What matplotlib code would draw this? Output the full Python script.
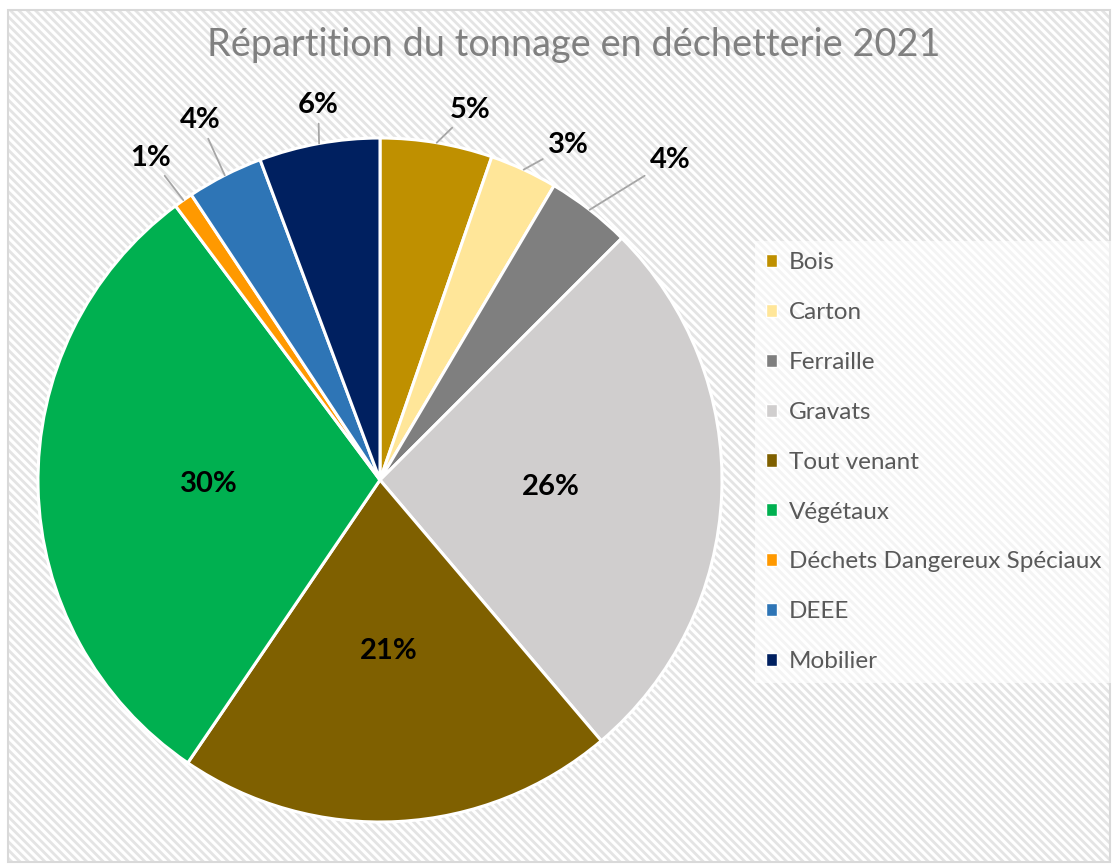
import numpy as np
import matplotlib.pyplot as plt
from matplotlib.patches import Rectangle, Patch

plt.rcParams['font.family'] = ['Lato', 'DejaVu Sans']
plt.rcParams['hatch.linewidth'] = 2.0

# Data (share of tonnage, %)
categories = ['Bois', 'Carton', 'Ferraille', 'Gravats', 'Tout venant', 'Végétaux',
              'Déchets Dangereux Spéciaux', 'DEEE', 'Mobilier']
values = [5.3, 3.2, 4.0, 26.3, 20.7, 30.3, 0.9, 3.6, 5.7]
colors = ['#BF9000', '#FFE699', '#7F7F7F', '#D0CECE', '#7F6000', '#00B050',
          '#FF9900', '#2E75B6', '#002060']

# label placement: None = inside the slice, else (clockwise angle offset deg, radius)
outside = [(4.2, 1.114), (4.5, 1.124), (4.4, 1.263), None, None, None,
           (-0.3, 1.156), (0.4, 1.176), (0.9, 1.111)]

fig = plt.figure(figsize=(11.14, 8.65), dpi=100)

# hatched background with light border
bg = Rectangle((8 / 1114, 3 / 865), 1102 / 1114, 852 / 865, transform=fig.transFigure,
               facecolor='white', edgecolor='#e4e4e4', hatch='\\' * 4, lw=0, zorder=-2)
fig.patches.append(bg)
border = Rectangle((8 / 1114, 3 / 865), 1102 / 1114, 852 / 865, transform=fig.transFigure,
                   facecolor='none', edgecolor='#d9d9d9', lw=1.5, zorder=-1)
fig.patches.append(border)

ax = fig.add_axes([38 / 1114, 43 / 865, 684 / 1114, 684 / 865])
wedges, _ = ax.pie(values, colors=colors, startangle=90, counterclock=False, radius=1,
                   wedgeprops=dict(edgecolor='white', linewidth=2.2))
ax.set_xlim(-1, 1)
ax.set_ylim(-1, 1)
ax.set_aspect('equal')
ax.axis('off')

total = sum(values)
for w, v, pos in zip(wedges, values, outside):
    mid = np.deg2rad((w.theta1 + w.theta2) / 2)
    txt = f'{v / total * 100:.0f}%'
    if pos is None:
        ax.text(0.5 * np.cos(mid), 0.5 * np.sin(mid), txt, ha='center', va='center',
                fontsize=21, fontweight='bold', color='black')
    else:
        a = mid - np.deg2rad(pos[0])
        tx, ty = pos[1] * np.cos(a), pos[1] * np.sin(a)
        ax.annotate(txt, xy=(np.cos(mid), np.sin(mid)), xytext=(tx, ty),
                    ha='center', va='center', fontsize=21, fontweight='bold', color='black',
                    arrowprops=dict(arrowstyle='-', color='#a6a6a6', lw=1.3,
                                    shrinkA=2, shrinkB=0))

fig.text(574 / 1114, 1 - 45 / 865, 'Répartition du tonnage en déchetterie 2021',
         ha='center', va='center', fontsize=27.3, color='#808080')

handles = [Patch(facecolor=c, edgecolor='white', lw=1) for c in colors]
leg = fig.legend(handles, categories, loc='upper left',
                 bbox_to_anchor=(755 / 1114, 1 - 241 / 865),
                 fontsize=17.5, frameon=True, fancybox=False, framealpha=0.6,
                 facecolor='white', edgecolor='none', handlelength=0.45, handleheight=0.45,
                 handletextpad=0.5, labelspacing=1.19, borderpad=0.45, borderaxespad=0)
for t in leg.get_texts():
    t.set_color('#595959')

fig.savefig('out.png', dpi=100)
